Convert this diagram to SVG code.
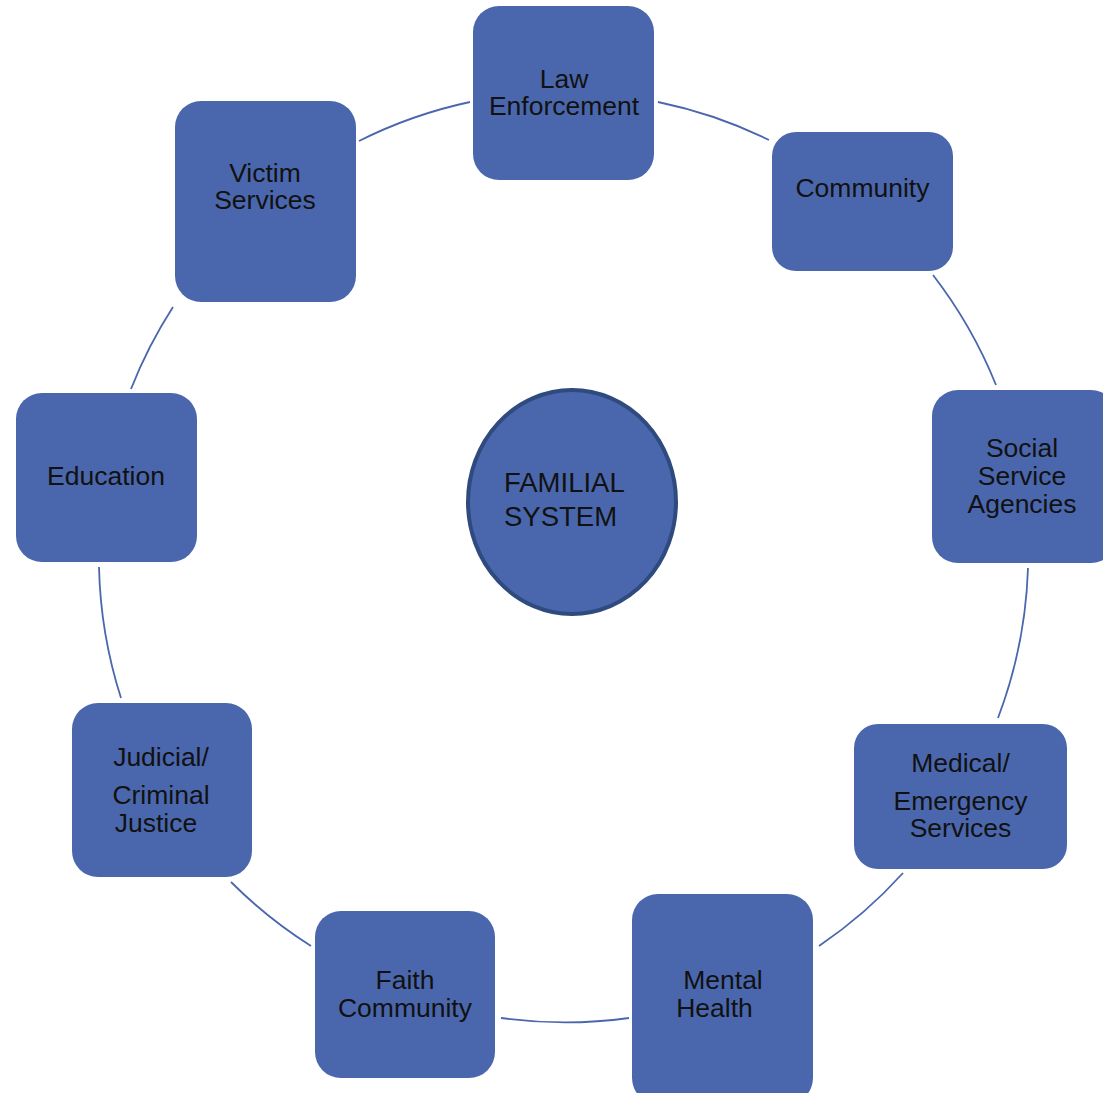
<svg xmlns="http://www.w3.org/2000/svg" width="1103" height="1093" viewBox="0 0 1103 1093">
<style>
.box{fill:#4A67AD;}
.lbl{font-family:"Liberation Sans",Arial,sans-serif;font-size:26.5px;fill:#111111;}
.mid{text-anchor:middle;}
.conn{fill:none;stroke:#4A67AD;stroke-width:1.8;}
.ctr{fill:#4A67AD;stroke:#2F4A7E;stroke-width:4;}
.ctxt{font-family:"Liberation Sans",Arial,sans-serif;font-size:27.5px;fill:#111111;}
</style>
<rect width="1103" height="1093" fill="#ffffff"/>
<g id="connectors">
<path class="conn" d="M359,141 A464,464 0 0 1 470,102"/>
<path class="conn" d="M658,102 A464,464 0 0 1 769,140"/>
<path class="conn" d="M933,275 A464,464 0 0 1 996,385"/>
<path class="conn" d="M1028,568 A464,464 0 0 1 998,718"/>
<path class="conn" d="M903,873 A464,464 0 0 1 819,946"/>
<path class="conn" d="M629,1018 A464,464 0 0 1 501,1018"/>
<path class="conn" d="M311,946 A464,464 0 0 1 231,882"/>
<path class="conn" d="M121,698 A464,464 0 0 1 99,567"/>
<path class="conn" d="M131,389 A464,464 0 0 1 173,307"/>
</g>
<g id="familial-system">
<ellipse class="ctr" cx="572" cy="502" rx="104" ry="112"/>
<text class="ctxt" x="504" y="492">FAMILIAL</text>
<text class="ctxt" x="504" y="526">SYSTEM</text>
</g>
<g id="law-enforcement">
<rect class="box" x="473" y="6" width="181" height="174" rx="26"/>
<text class="lbl mid" x="564" y="88">Law</text>
<text class="lbl mid" x="564" y="115">Enforcement</text>
</g>
<g id="community">
<rect class="box" x="772" y="132" width="181" height="139" rx="24"/>
<text class="lbl mid" x="862.5" y="197">Community</text>
</g>
<g id="social-service-agencies">
<rect class="box" x="932" y="390" width="185" height="173" rx="26"/>
<text class="lbl mid" x="1022" y="457">Social</text>
<text class="lbl mid" x="1022" y="485">Service</text>
<text class="lbl mid" x="1022" y="513">Agencies</text>
</g>
<g id="medical-emergency-services">
<rect class="box" x="854" y="724" width="213" height="145" rx="24"/>
<text class="lbl mid" x="960.5" y="772">Medical/</text>
<text class="lbl mid" x="960.5" y="810">Emergency</text>
<text class="lbl mid" x="960.5" y="837">Services</text>
</g>
<g id="mental-health">
<rect class="box" x="632" y="894" width="181" height="210" rx="26"/>
<text class="lbl mid" x="723" y="989">Mental</text>
<text class="lbl mid" x="714.5" y="1017">Health</text>
</g>
<g id="faith-community">
<rect class="box" x="315" y="911" width="180" height="167" rx="26"/>
<text class="lbl mid" x="405" y="989">Faith</text>
<text class="lbl mid" x="405" y="1017">Community</text>
</g>
<g id="judicial-criminal-justice">
<rect class="box" x="72" y="703" width="180" height="174" rx="26"/>
<text class="lbl mid" x="161" y="766">Judicial/</text>
<text class="lbl mid" x="161" y="804">Criminal</text>
<text class="lbl mid" x="156" y="832">Justice</text>
</g>
<g id="education">
<rect class="box" x="16" y="393" width="181" height="169" rx="26"/>
<text class="lbl mid" x="106" y="485">Education</text>
</g>
<g id="victim-services">
<rect class="box" x="175" y="101" width="181" height="201" rx="26"/>
<text class="lbl mid" x="265" y="182">Victim</text>
<text class="lbl mid" x="265" y="209">Services</text>
</g>
</svg>
